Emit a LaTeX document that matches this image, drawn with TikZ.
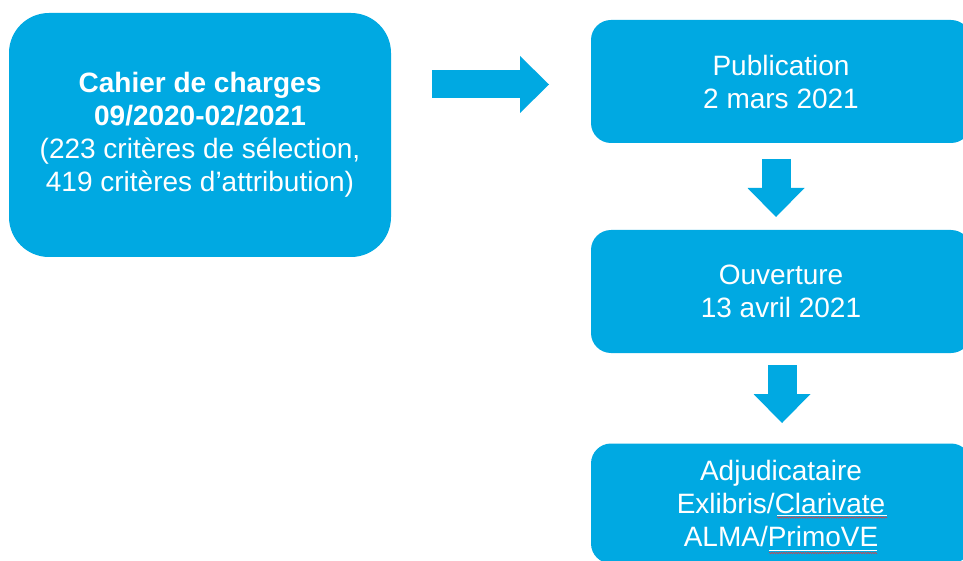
\documentclass[tikz,border=0pt]{standalone}
\usepackage{fontspec}
\setmainfont{Liberation Sans}
\usetikzlibrary{arrows.meta,decorations.pathmorphing}
\definecolor{boxblue}{RGB}{0,169,226}
\definecolor{squig}{RGB}{200,70,80}
\begin{document}
\begin{tikzpicture}[x=1pt,y=-1pt,
  box/.style={fill=boxblue,draw=none,text=white,align=center,
              font=\fontsize{28}{33}\selectfont,inner sep=0pt},
  bigbox/.style={box,rounded corners=40pt,minimum width=382pt,minimum height=244pt},
  smallbox/.style={box,rounded corners=20pt,minimum width=380pt,minimum height=123pt},
  blockarrow/.style={draw=boxblue,line width=28pt,
              -{Triangle[length=29pt,width=57pt,line width=0pt]}},
  underl/.style={white,line width=0.9pt},
  squiggle/.style={squig,line width=0.6pt,decorate,
              decoration={zigzag,amplitude=0.7pt,segment length=2.4pt}}]
\useasboundingbox (0,0) rectangle (963,561);
\clip (0,0) rectangle (963,561);
\fill[white] (0,0) rectangle (963,561);

\node[bigbox] (cahier) at (200,135)
  {\textbf{Cahier de charges}\\\textbf{09/2020-02/2021}\\(223 critères de sélection,\\419 critères d’attribution)};
\node[smallbox] (pub) at (781,81.5) {Publication\\2 mars 2021};
\node[smallbox] (ouv) at (781,291.5) {Ouverture\\13 avril 2021};
\node[smallbox,minimum height=120pt] (adj) at (781,503.5)
  {Adjudicataire\\Exlibris/Clarivate\\ALMA/PrimoVE};

% spell-check marks under Clarivate and PrimoVE
\coordinate (c1a) at (777,515);
\coordinate (c1b) at (887,515);
\coordinate (c2a) at (777,517.5);
\coordinate (c2b) at (887,517.5);
\coordinate (p1a) at (769,550.5);
\coordinate (p1b) at (877,550.5);
\coordinate (p2a) at (769,553);
\coordinate (p2b) at (877,553);
\draw[underl] (c1a) -- (c1b);
\draw[squiggle] (c2a) -- (c2b);
\draw[underl] (p1a) -- (p1b);
\draw[squiggle] (p2a) -- (p2b);

\coordinate (a1s) at (432,84.5);
\coordinate (a1e) at (549,84.5);
\coordinate (a2s) at (776,159);
\coordinate (a2e) at (776,217);
\coordinate (a3s) at (782,365);
\coordinate (a3e) at (782,423);

\draw[blockarrow] (a1s) -- (a1e);
\draw[blockarrow,line width=29pt] (a2s) -- (a2e);
\draw[blockarrow,line width=29pt] (a3s) -- (a3e);
\end{tikzpicture}
\end{document}
